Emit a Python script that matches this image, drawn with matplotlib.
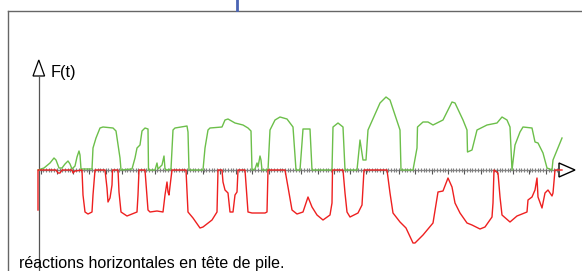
import numpy as np
import matplotlib
matplotlib.use("Agg")
import matplotlib.pyplot as plt
from matplotlib.patches import Polygon

# time (t) and force F(t) (origin at the axes crossing)
green_x = [38, 44, 50, 54, 56, 59, 62, 65, 68, 70, 72, 75, 77, 79, 80, 81, 92, 93, 96, 100, 103, 113, 116, 120, 121,
           132, 135, 137, 140, 142, 145, 148, 148.5, 155, 157, 158, 162, 164, 165, 167, 171, 173, 175, 187, 188, 189,
           203, 205, 208, 210, 222, 225, 228, 235, 243, 248, 251, 252, 255, 257, 258, 260, 261, 262, 268, 270, 275,
           280, 287, 293, 296, 300, 302, 303, 310, 312, 332, 333, 338, 343, 345, 357, 360, 363, 366, 368, 380, 386,
           390, 400, 401, 413, 417, 417.5, 423, 428, 433, 443, 452, 455, 463, 467, 467.5, 472, 477, 487, 497, 502,
           507, 510, 512, 515, 520, 523, 532, 535, 538, 543, 547, 552, 553, 562]
green_y = [170, 168, 163, 158, 160, 168, 168, 164, 161, 164, 169, 166, 157, 151, 155, 169, 169, 148, 138, 128, 127, 128,
           131, 158, 170, 169, 158, 148, 145, 131, 128, 129, 170, 170, 163, 169, 165, 156, 169, 170, 169, 130, 128, 126,
           132, 170, 170, 148, 130, 128, 127, 120, 119, 123, 125, 128, 131, 170, 169, 163, 167, 156, 160, 170, 170, 130,
           120, 117, 119, 127, 170, 170, 143, 129, 129, 170, 170, 127, 123, 127, 170, 170, 140, 160, 160, 130, 103, 97,
           100, 130, 170, 170, 148, 127, 122, 122, 125, 120, 102, 103, 120, 130, 152, 150, 130, 125, 123, 117, 120, 127,
           170, 145, 132, 127, 128, 142, 143, 153, 168, 170, 160, 138]

red_x = [38, 38, 56, 58, 60, 62, 72, 73, 75, 82, 83, 85, 88, 92, 93, 95, 105, 107, 108, 110, 112, 112.5, 118, 119, 121,
         127, 137, 138, 139, 145, 148, 150, 157, 163, 165, 167, 168, 169, 171, 172, 186, 188, 193, 200, 203, 212, 217,
         218, 222, 223, 225, 228, 230, 233, 235, 237, 238, 245, 248, 252, 265, 267, 268, 285, 288, 292, 297, 303, 308,
         312, 317, 323, 330, 332, 332.5, 343, 345, 347, 350, 358, 362, 364, 387, 390, 393, 400, 406, 413, 415, 423,
         433, 438, 443, 448, 452, 455, 460, 467, 472, 480, 485, 492, 493, 494, 498, 500, 502, 510, 517, 527, 528, 532,
         535, 537, 538, 542, 545, 548, 552, 553, 555, 562]
red_y = [210, 170, 170, 173, 173, 170, 170, 173, 171, 170, 195, 212, 214, 212, 195, 170, 170, 188, 202, 198, 185, 170,
         170, 192, 212, 216, 212, 195, 170, 170, 210, 212, 211, 212, 195, 182, 192, 195, 178, 170, 170, 212, 218, 228,
         227, 220, 212, 170, 170, 182, 190, 193, 212, 212, 195, 192, 170, 170, 212, 213, 213, 212, 170, 170, 187, 210,
         214, 212, 197, 207, 215, 220, 215, 203, 170, 170, 193, 212, 217, 213, 205, 170, 170, 193, 213, 222, 228, 243,
         243, 235, 223, 192, 191, 178, 187, 203, 213, 223, 225, 229, 227, 217, 203, 170, 173, 197, 215, 222, 216, 212,
         200, 197, 190, 178, 197, 208, 193, 190, 196, 193, 170, 170]

title_text = "F(t)"
caption = "réactions horizontales en tête de pile."

W, H = 582, 271
fig = plt.figure(figsize=(W / 100, H / 100), dpi=100)
ax = fig.add_axes([0, 0, 1, 1])
ax.set_xlim(0, W)
ax.set_ylim(H, 0)
ax.axis("off")

# frame and blue marker
ax.plot([7.5, W], [10.5, 10.5], color="#666666", lw=1.0)
ax.plot([7.5, 7.5], [10.5, H], color="#666666", lw=1.0)
ax.plot([236.5, 236.5], [0, 10], color="#4a64b4", lw=2.0)

# y axis
ax.plot([38.5, 38.5], [76, H], color="#555555", lw=0.9)
ax.add_patch(Polygon([[38.8, 60], [33, 76], [44.6, 76]], closed=True, fc="white", ec="black", lw=0.9))
ax.text(51, 72, title_text, fontsize=11.8, family="Liberation Sans", va="center", ha="left")

# x axis with dense ticks
y0 = 170
ax.plot([38.5, 559], [y0, y0], color="#888888", lw=1.0)
minor = np.arange(40.5, 558, 16.3 / 6)
ax.vlines(minor, y0 - 2.5, y0 + 1.5, color="#808080", lw=0.8)
major = np.arange(40.5, 558, 16.3)
ax.vlines(major, y0, y0 + 4, color="#555555", lw=0.8)

ax.plot(green_x, green_y, color="#6cbf4a", lw=1.0)
ax.plot(red_x, red_y, color="#ee2020", lw=1.0)

ax.add_patch(Polygon([[575, 170], [559, 163], [559, 177]], closed=True, fc="white", ec="black", lw=1.0))

ax.text(19, 268, caption, fontsize=11.5, family="Liberation Sans", va="baseline", ha="left")

fig.savefig("out.png", dpi=100)
